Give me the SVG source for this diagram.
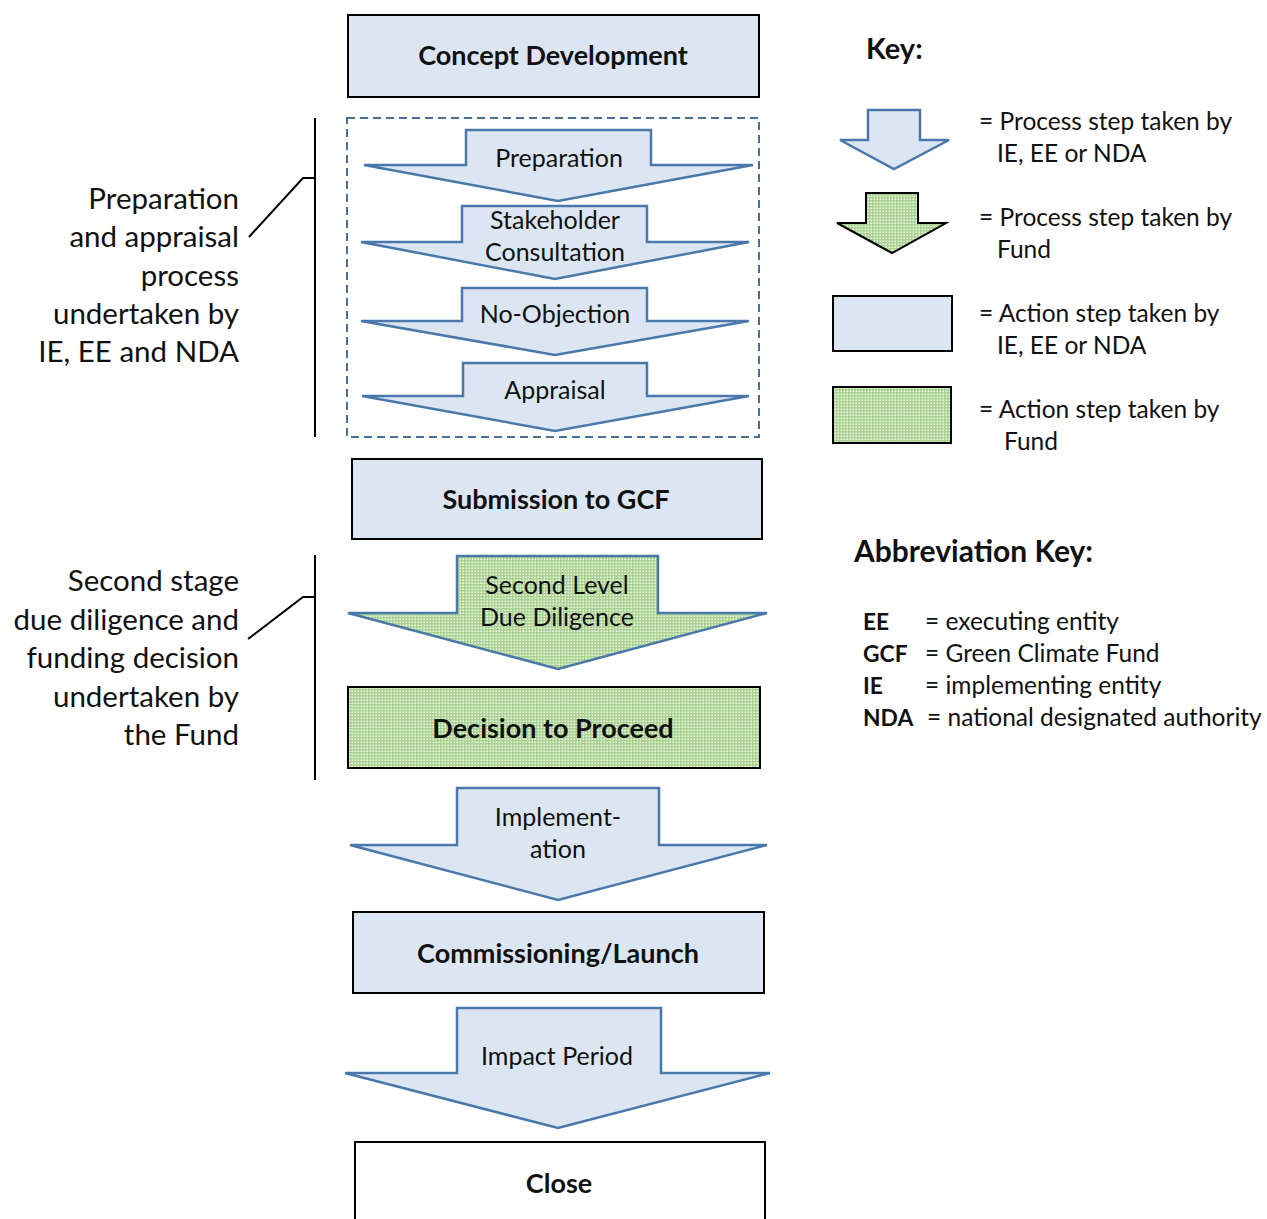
<svg xmlns="http://www.w3.org/2000/svg" width="1267" height="1219" viewBox="0 0 1267 1219">
<defs>
<pattern id="dots" width="3" height="3" patternUnits="userSpaceOnUse">
<rect width="3" height="3" fill="#a6d08a"/>
<rect x="0.5" y="0.5" width="1.6" height="1.6" fill="#ffffff" opacity="0.85"/>
</pattern>
<style>
.box{fill:#dce6f2;stroke:#000;stroke-width:2}
.gbox{fill:url(#dots);stroke:#000;stroke-width:2}
.arr{fill:#dce6f2;stroke:#4a78aa;stroke-width:2.5;stroke-linejoin:miter}
.garr{fill:url(#dots);stroke:#4a78aa;stroke-width:2.5}
.t{font-family:Lato,"Liberation Sans",sans-serif;fill:#111}
.n{font-size:25px;text-anchor:middle}
.b{font-size:27px;font-weight:bold;text-anchor:middle}
.l{font-size:29.5px;text-anchor:end}
.k{font-size:24.5px}
.kb{font-size:22.8px;font-weight:bold}
.line{stroke:#000;stroke-width:2;fill:none}
</style>
</defs>
<rect width="1267" height="1219" fill="#fff"/>

<g id="connectors">
<path class="line" d="M315 118 V437 M315 178 H303 L249 237"/>
<path class="line" d="M315 555 V780 M315 597 H303 L248 639"/>
<rect x="347" y="118" width="412" height="319" fill="none" stroke="#4a6f96" stroke-width="2" stroke-dasharray="8,5"/>
</g>

<g id="concept">
<rect class="box" x="348" y="15" width="411" height="82"/>
<text class="t b" x="553" y="65">Concept Development</text>
</g>

<g id="preparation">
<polygon class="arr" points="466,130 651,130 651,165 753,165 558,201 364,165 466,165"/>
<text class="t n" x="559" y="167">Preparation</text>
</g>

<g id="stakeholder">
<polygon class="arr" points="462,206 647,206 647,242 749,242 555,279 361,242 462,242"/>
<text class="t n" x="555" y="229">Stakeholder</text>
<text class="t n" x="555" y="261">Consultation</text>
</g>

<g id="noobjection">
<polygon class="arr" points="462,288 647,288 647,321 749,321 555,355 361,321 462,321"/>
<text class="t n" x="555" y="323">No-Objection</text>
</g>

<g id="appraisal">
<polygon class="arr" points="463,363 647,363 647,396 749,396 555,431 362,396 463,396"/>
<text class="t n" x="555" y="399">Appraisal</text>
</g>

<g id="submission">
<rect class="box" x="352" y="459" width="410" height="80"/>
<text class="t b" x="556" y="509">Submission to GCF</text>
</g>

<g id="secondlevel">
<polygon class="garr" points="457,556 658,556 658,613 767,613 558,669 348,613 457,613"/>
<text class="t n" x="557" y="594">Second Level</text>
<text class="t n" x="557" y="626">Due Diligence</text>
</g>

<g id="decision">
<rect class="gbox" x="348" y="687" width="412" height="81"/>
<text class="t b" x="553" y="738">Decision to Proceed</text>
</g>

<g id="implementation">
<polygon class="arr" points="457,788 659,788 659,845 767,845 558,900 350,845 457,845"/>
<text class="t n" x="558" y="826">Implement-</text>
<text class="t n" x="558" y="858">ation</text>
</g>

<g id="commissioning">
<rect class="box" x="353" y="912" width="411" height="81"/>
<text class="t b" x="558" y="963">Commissioning/Launch</text>
</g>

<g id="impact">
<polygon class="arr" points="457,1008 661,1008 661,1073 770,1073 558,1128 345,1073 457,1073"/>
<text class="t n" x="557" y="1065">Impact Period</text>
</g>

<g id="close">
<rect x="355" y="1142" width="410" height="90" fill="#fff" stroke="#000" stroke-width="2"/>
<text class="t b" x="559" y="1193">Close</text>
</g>

<g id="label-prep">
<text class="t l" x="239" y="209">Preparation</text>
<text class="t l" x="239" y="247">and appraisal</text>
<text class="t l" x="239" y="286">process</text>
<text class="t l" x="239" y="324">undertaken by</text>
<text class="t l" x="239" y="362">IE, EE and NDA</text>
</g>

<g id="label-second">
<text class="t l" x="239" y="591">Second stage</text>
<text class="t l" x="239" y="630">due diligence and</text>
<text class="t l" x="239" y="668">funding decision</text>
<text class="t l" x="239" y="707">undertaken by</text>
<text class="t l" x="239" y="745">the Fund</text>
</g>

<g id="key">
<text class="t" x="866" y="59" font-size="29" font-weight="bold">Key:</text>
<polygon class="arr" points="868,110 920,110 920,140 949,140 894,169 840,140 868,140"/>
<polygon points="866,193 918,193 918,223 946,223 892,253 837,223 866,223" fill="url(#dots)" stroke="#000" stroke-width="2"/>
<rect class="box" x="833" y="296" width="119" height="55"/>
<rect class="gbox" x="833" y="387" width="118" height="56"/>
<text class="t k" x="979" y="130">= Process step taken by</text>
<text class="t k" x="997" y="162">IE, EE or NDA</text>
<text class="t k" x="979" y="226">= Process step taken by</text>
<text class="t k" x="997" y="258">Fund</text>
<text class="t k" x="979" y="322">= Action step taken by</text>
<text class="t k" x="997" y="354">IE, EE or NDA</text>
<text class="t k" x="979" y="418">= Action step taken by</text>
<text class="t k" x="1004" y="450">Fund</text>
</g>

<g id="abbrev">
<text class="t" x="854" y="562" font-size="30" font-weight="bold">Abbreviation Key:</text>
<text class="t kb" x="863" y="630">EE</text>
<text class="t k" x="925" y="630">= executing entity</text>
<text class="t kb" x="863" y="662">GCF</text>
<text class="t k" x="925" y="662">= Green Climate Fund</text>
<text class="t kb" x="863" y="694">IE</text>
<text class="t k" x="925" y="694">= implementing entity</text>
<text class="t kb" x="863" y="726">NDA</text>
<text class="t k" x="927" y="726">= national designated authority</text>
</g>
</svg>
